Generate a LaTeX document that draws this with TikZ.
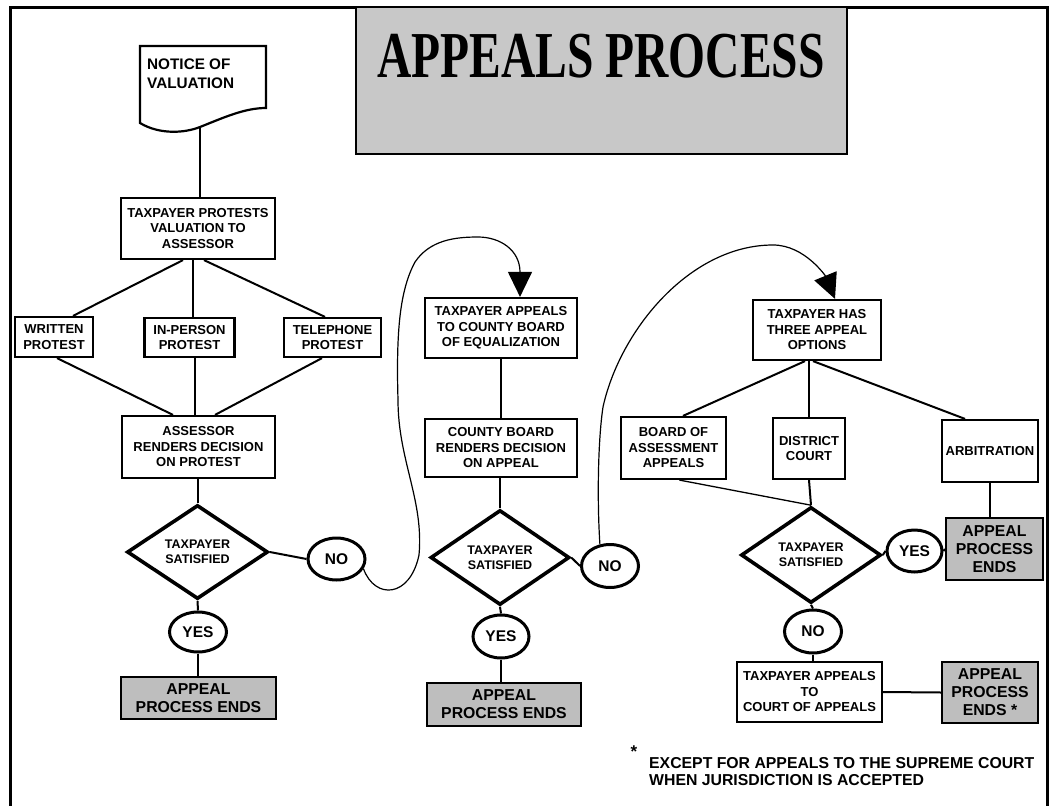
\documentclass[tikz,border=0pt]{standalone}
\usepackage{fontspec}
\usepackage{graphicx}
\setmainfont{Liberation Sans}
\newfontfamily\titlefont{Liberation Serif}
\usetikzlibrary{shapes.geometric,arrows.meta}
\definecolor{panelgray}{RGB}{200,200,200}
\definecolor{endgray}{RGB}{190,190,190}

\begin{document}
\begin{tikzpicture}[x=1pt, y=-1pt,
  box/.style={draw, line width=2.2pt, align=center, inner sep=0pt, font=\bfseries\fontsize{13}{15.5}\selectfont},
  endbox/.style={box, fill=endgray, font=\bfseries\fontsize{15.8}{18}\selectfont},
  decision/.style={draw, diamond, line width=3.6pt, aspect=1.5, inner sep=0pt, align=center, font=\bfseries\fontsize{12.5}{15}\selectfont},
  answer/.style={draw, ellipse, line width=3pt, inner sep=0pt, minimum width=57pt, minimum height=42pt, font=\bfseries\fontsize{15.5}{18}\selectfont},
  link/.style={line width=2pt},
  thinlink/.style={line width=1.3pt},
  jump/.style={line width=1.2pt, -{Triangle[length=25pt,width=24pt]}},
  note/.style={align=left, inner sep=0pt, font=\bfseries\fontsize{15.8}{17.5}\selectfont}
]
\useasboundingbox (0,0) rectangle (1053,806);
\draw[line width=3pt] (10,806) -- (10,7) -- (1047,7) -- (1047,806);

\node[draw, line width=1.8pt, fill=panelgray, minimum width=491pt, minimum height=147pt] (titlebox) at (601.5,80.5) {};
\node (title) at (601,56) {\titlefont\bfseries\fontsize{47.5}{48}\selectfont\scalebox{1}[1.38]{APPEALS PROCESS}};

\draw[line width=2.2pt] (140,123) -- (140,46) -- (266,46) -- (266,108) .. controls (245,108) and (225,117) .. (200,127) .. controls (185,133) and (160,135) .. cycle;
\node[anchor=west, align=left, inner sep=0pt, font=\bfseries\fontsize{15.3}{19}\selectfont] (notice) at (147,74) {NOTICE OF\\VALUATION};
\coordinate (noticeend) at (200,127);

\node[box, minimum width=154pt, minimum height=61pt] (protest) at (198,228.5) {TAXPAYER PROTESTS\\VALUATION TO\\ASSESSOR};
\node[box, minimum width=78pt, minimum height=40pt] (written) at (54,337) {WRITTEN\\PROTEST};
\node[box, minimum width=90pt, minimum height=39pt] (inperson) at (189.5,337.5) {IN-PERSON\\PROTEST};
\node[box, minimum width=97pt, minimum height=39pt] (phone) at (332.5,337.5) {TELEPHONE\\PROTEST};
\node[box, minimum width=153pt, minimum height=62pt] (assessor) at (198.5,447) {ASSESSOR\\RENDERS DECISION\\ON PROTEST};
\node[decision, minimum width=141pt, minimum height=94pt] (diamond1) at (197.5,552) {TAXPAYER\\SATISFIED};
\node[answer] (no1) at (336.5,559) {NO};
\node[answer, minimum height=40pt] (yes1) at (198,632) {YES};
\node[endbox, minimum width=155pt, minimum height=42pt] (ends1) at (198.5,698) {APPEAL\\PROCESS ENDS};

\node[box, minimum width=152pt, minimum height=60pt] (appeal) at (501,328) {TAXPAYER APPEALS\\TO COUNTY BOARD\\OF EQUALIZATION};
\node[box, minimum width=152pt, minimum height=58pt] (board) at (501,448) {COUNTY BOARD\\RENDERS DECISION\\ON APPEAL};
\node[decision, minimum width=139pt, minimum height=95pt] (diamond2) at (500,557.5) {TAXPAYER\\SATISFIED};
\node[answer, minimum height=43pt] (no2) at (610,566) {NO};
\node[answer, minimum width=56pt, minimum height=43pt] (yes2) at (501,636.5) {YES};
\node[endbox, minimum width=154pt, minimum height=43pt] (ends2) at (504,704.5) {APPEAL\\PROCESS ENDS};

\node[box, minimum width=128pt, minimum height=60pt] (opts) at (817,330) {TAXPAYER HAS\\THREE APPEAL\\OPTIONS};
\node[box, minimum width=105pt, minimum height=62pt] (boa) at (673.5,448) {BOARD OF\\ASSESSMENT\\APPEALS};
\node[box, minimum width=72pt, minimum height=61pt] (district) at (809,448.5) {DISTRICT\\COURT};
\node[box, minimum width=96pt, minimum height=62pt] (arb) at (990,451) {ARBITRATION};
\node[decision, minimum width=140pt, minimum height=96pt] (diamond3) at (811,555) {TAXPAYER\\SATISFIED};
\node[answer, minimum width=55pt] (yes3) at (914.5,551) {YES};
\node[endbox, minimum width=97pt, minimum height=62pt] (ends3) at (994.5,549) {APPEAL\\PROCESS\\ENDS};
\node[answer, minimum height=43pt] (no3) at (813,631.5) {NO};
\node[box, minimum width=145pt, minimum height=60pt] (court) at (809.5,692) {TAXPAYER APPEALS\\TO\\COURT OF APPEALS};
\node[endbox, minimum width=96pt, minimum height=61pt] (ends4) at (990,692.5) {APPEAL\\PROCESS\\ENDS *};

\node[inner sep=0pt, font=\bfseries\fontsize{17}{17}\selectfont] (star) at (634,752) {*};
\node[note, anchor=north west] (footnote) at (649,757) {EXCEPT FOR APPEALS TO THE SUPREME COURT\\WHEN JURISDICTION IS ACCEPTED};

\draw[link] (noticeend) -- (noticeend |- protest.north);
\draw[link] ([xshift=-15pt]protest.south) -- ([xshift=19pt]written.north);
\draw[link] ([xshift=-5pt]protest.south) -- ([xshift=3.5pt]inperson.north);
\draw[link] ([xshift=6pt]protest.south) -- ([xshift=-7.5pt]phone.north);
\draw[link] ([xshift=3pt]written.south) -- ([xshift=-25.5pt]assessor.north);
\draw[link] ([xshift=5.5pt]inperson.south) -- ([xshift=-3.5pt]assessor.north);
\draw[link] ([xshift=-10.5pt]phone.south) -- ([xshift=16.5pt]assessor.north);
\draw[link] (diamond1.north |- assessor.south) -- (diamond1.north);
\draw[link] (diamond1.east) -- (no1.west);
\draw[link] (diamond1.south) -- (yes1.north);
\draw[link] (yes1.south) -- (yes1.south |- ends1.north);

\draw[link] (appeal.south) -- (board.north);
\draw[link] (diamond2.north |- board.south) -- (diamond2.north);
\draw[link] (diamond2.east) -- (no2.west);
\draw[link] (diamond2.south) -- (yes2.north);
\draw[link] (yes2.south) -- (yes2.south |- ends2.north);

\draw[link] ([xshift=-12pt]opts.south) -- ([xshift=9.5pt]boa.north);
\draw[link] ([xshift=-8pt]opts.south) -- (district.north);
\draw[link] ([xshift=-4pt]opts.south) -- ([xshift=-25pt]arb.north);
\draw[thinlink] ([xshift=6pt]boa.south) -- (diamond3.north);
\draw[link] (district.south) -- (diamond3.north);
\draw[link] (diamond3.east) -- (yes3.west);
\draw[link] (yes3.east) -- (ends3.west);
\draw[link] (arb.south) -- (arb.south |- ends3.north);
\draw[link] (diamond3.south) -- (no3.north);
\draw[link] (no3.south) -- (no3.south |- court.north);
\draw[link] (court.east) -- (ends4.west);

\draw[jump] (no1.-20) .. controls (375,600) and (410,598) .. (419,555) .. controls (424,500) and (398,460) .. (398,400) .. controls (396,330) and (400,290) .. (415,262) .. controls (430,240) and (455,237) .. (478,237) .. controls (500,237) and (520,250) .. ([xshift=19pt]appeal.north);
\draw[jump] (no2.115) .. controls (597,500) and (598,440) .. (603,407) .. controls (620,330) and (690,245) .. (773,245) .. controls (805,245) and (826,277) .. ([xshift=18pt]opts.north);
\end{tikzpicture}
\end{document}
